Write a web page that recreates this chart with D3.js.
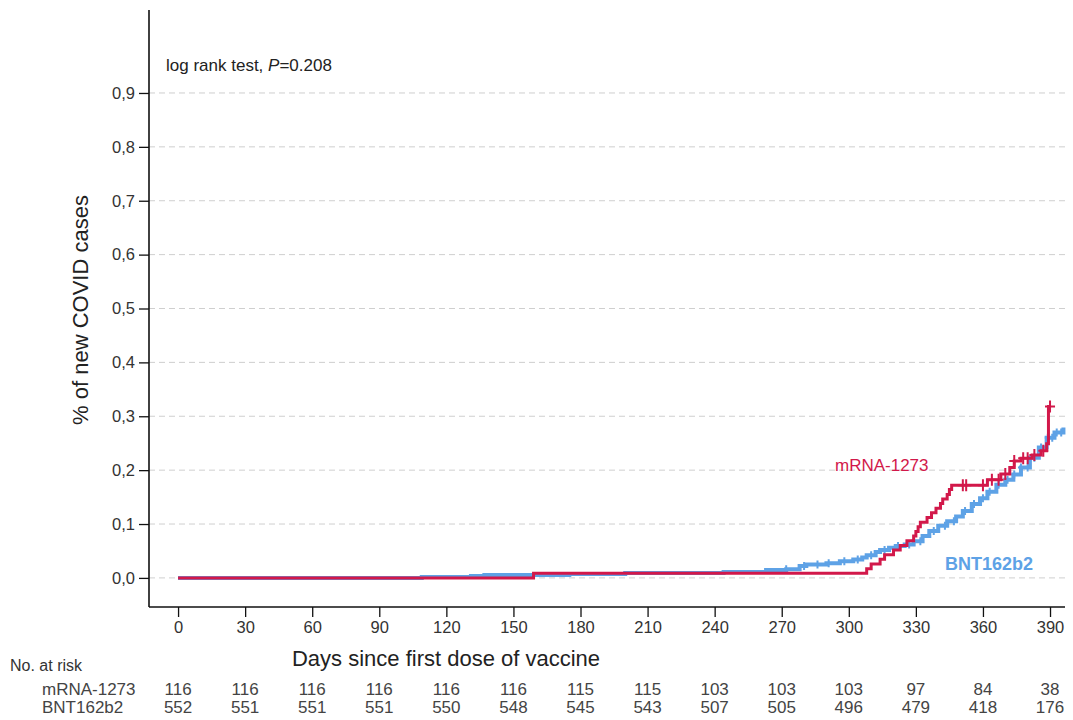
<!DOCTYPE html>
<html>
<head>
<meta charset="utf-8">
<script src="https://cdn.jsdelivr.net/npm/d3@7"></script>
<style>
  body { margin: 0; background: #fff; }
  svg text { font-family: "Liberation Sans", Arial, sans-serif; }
</style>
</head>
<body>
<div id="chart"></div>
<script>
// tick values
var dayTicks = [0, 30, 60, 90, 120, 150, 180, 210, 240, 270, 300, 330, 360, 390];
var yTicks = [0, 0.1, 0.2, 0.3, 0.4, 0.5, 0.6, 0.7, 0.8, 0.9];

// numbers at risk
var riskMrna = [116, 116, 116, 116, 116, 116, 115, 115, 103, 103, 103, 97, 84, 38];
var riskBnt = [552, 551, 551, 551, 550, 548, 545, 543, 507, 505, 496, 479, 418, 176];

// mRNA-1273 cumulative incidence steps [day, value]
var mrnaSteps = [
  [0, 0], [159, 0.0086], [308, 0.0172], [310, 0.0259], [314, 0.0345], [316, 0.0431],
  [320, 0.0517], [323, 0.0603], [326, 0.069], [329, 0.0776], [330, 0.0862],
  [331, 0.0948], [332, 0.1034], [335, 0.112], [337, 0.1207], [339, 0.1293],
  [341, 0.138], [342, 0.1466], [344, 0.155], [345, 0.164], [346, 0.172],
  [362, 0.182], [368, 0.193], [372, 0.205], [374, 0.217], [377, 0.222],
  [382, 0.228], [386, 0.236], [388.5, 0.249], [389.3, 0.318], [390, 0.318]
];
var mrnaCensor = [351, 352.5, 360, 364, 367, 370, 374, 378, 380, 383, 387, 390];

// BNT162b2 cumulative incidence steps [day, value]
var bntSteps = [
  [0, 0], [109, 0.0018], [131, 0.0036], [137, 0.0054], [175, 0.0072], [200, 0.009],
  [244, 0.011], [263, 0.0145], [272, 0.016], [278, 0.022], [281, 0.025],
  [290, 0.027], [296, 0.031], [302, 0.034], [306, 0.038], [308, 0.042],
  [312, 0.048], [314, 0.052], [318, 0.056], [321, 0.059], [325, 0.062],
  [329, 0.068], [333, 0.078], [336, 0.087], [340, 0.097], [344, 0.105],
  [348, 0.114], [351, 0.124], [355, 0.137], [358.7, 0.148], [362, 0.16],
  [366, 0.173], [370, 0.182], [373.6, 0.192], [377, 0.205], [381, 0.223],
  [385, 0.242], [388.5, 0.26], [392, 0.27], [396, 0.279]
];
var bntCensor = [272, 280, 286, 291, 298, 304, 310, 316, 322, 327, 332, 338, 343, 347,
  352, 356, 360, 363, 367, 371, 374, 377, 380, 383, 386, 389, 391, 393, 395];

var W = 1073, H = 720;
var red = "#d2184a", blue = "#5ea2e6";
var txt = "#333";

var svg = d3.select("#chart").append("svg").attr("width", W).attr("height", H);

var x = d3.scaleLinear().domain([-13, 396.7]).range([149, 1065]);
var y = d3.scaleLinear().domain([-0.054, 1.054]).range([607, 10]);

// dashed grid
svg.append("g").selectAll("line").data(yTicks).enter().append("line")
  .attr("x1", 149).attr("x2", 1065)
  .attr("y1", function(d) { return y(d); }).attr("y2", function(d) { return y(d); })
  .attr("stroke", "#cfcfcf").attr("stroke-width", 1).attr("stroke-dasharray", "6,4");

// axes
var yAxis = d3.axisLeft(y).tickValues(yTicks).tickSize(10).tickPadding(4)
  .tickFormat(function(d) { return d3.format(".1f")(d).replace(".", ","); });
var gy = svg.append("g").attr("transform", "translate(149,0)").call(yAxis);

var xAxis = d3.axisBottom(x).tickValues(dayTicks).tickSize(10).tickPadding(4);
var gx = svg.append("g").attr("transform", "translate(0,607)").call(xAxis);

[gy, gx].forEach(function(g) {
  g.select(".domain").attr("stroke", "#111").attr("stroke-width", 1.6);
  g.selectAll(".tick line").attr("stroke", "#111").attr("stroke-width", 1.3);
  g.selectAll(".tick text").attr("font-size", 16.5).attr("fill", txt)
    .style("font-family", "Liberation Sans, Arial, sans-serif");
});
gy.select(".domain").attr("d", "M0,10V607");
gx.select(".domain").attr("d", "M149,0H1065");

// step function helper
function valueAt(steps, day) {
  var v = 0;
  steps.forEach(function(s) { if (s[0] <= day) v = s[1]; });
  return v;
}

var line = d3.line()
  .x(function(d) { return x(d[0]); })
  .y(function(d) { return y(d[1]); })
  .curve(d3.curveStepAfter);

// BNT162b2
svg.append("path").datum(bntSteps).attr("d", line)
  .attr("fill", "none").attr("stroke", blue).attr("stroke-width", 4);
var bc = svg.append("g");
bntCensor.forEach(function(d) {
  var cx = x(d), cy = y(valueAt(bntSteps, d));
  bc.append("path").attr("d", "M" + (cx - 3) + "," + cy + "h6M" + cx + "," + (cy - 4) + "v8")
    .attr("stroke", blue).attr("stroke-width", 2);
});

// mRNA-1273
svg.append("path").datum(mrnaSteps).attr("d", line)
  .attr("fill", "none").attr("stroke", red).attr("stroke-width", 3);
var mc = svg.append("g");
mrnaCensor.forEach(function(d) {
  var cx = x(d), cy = y(valueAt(mrnaSteps, d));
  mc.append("path").attr("d", "M" + (cx - 5) + "," + cy + "h10M" + cx + "," + (cy - 6) + "v12")
    .attr("stroke", red).attr("stroke-width", 2);
});

// series labels
svg.append("text").attr("x", 835).attr("y", 471).attr("font-size", 17)
  .attr("fill", red).text("mRNA-1273");
svg.append("text").attr("x", 945).attr("y", 570).attr("font-size", 18)
  .attr("font-weight", "bold").attr("fill", blue).text("BNT162b2");

// log-rank annotation
var ann = svg.append("text").attr("x", 166).attr("y", 71).attr("font-size", 17).attr("fill", "#222");
ann.append("tspan").text("log rank test, ");
ann.append("tspan").attr("font-style", "italic").text("P");
ann.append("tspan").text("=0.208");

// axis titles
svg.append("text").attr("transform", "translate(88,310) rotate(-90)")
  .attr("text-anchor", "middle").attr("font-size", 22).attr("fill", "#222")
  .text("% of new COVID cases");
svg.append("text").attr("x", 446).attr("y", 666).attr("text-anchor", "middle")
  .attr("font-size", 22).attr("fill", "#222").text("Days since first dose of vaccine");

// risk table
svg.append("text").attr("x", 10).attr("y", 671).attr("font-size", 16).attr("fill", txt)
  .text("No. at risk");
var rows = [["mRNA-1273", riskMrna, 695], ["BNT162b2", riskBnt, 713]];
rows.forEach(function(r) {
  svg.append("text").attr("x", 42).attr("y", r[2]).attr("font-size", 17).attr("fill", "#444").text(r[0]);
  svg.append("g").selectAll("text").data(r[1]).enter().append("text")
    .attr("x", function(d, i) { return x(dayTicks[i]); })
    .attr("y", r[2]).attr("text-anchor", "middle").attr("font-size", 17).attr("fill", "#444")
    .text(function(d) { return d; });
});
</script>
</body>
</html>
